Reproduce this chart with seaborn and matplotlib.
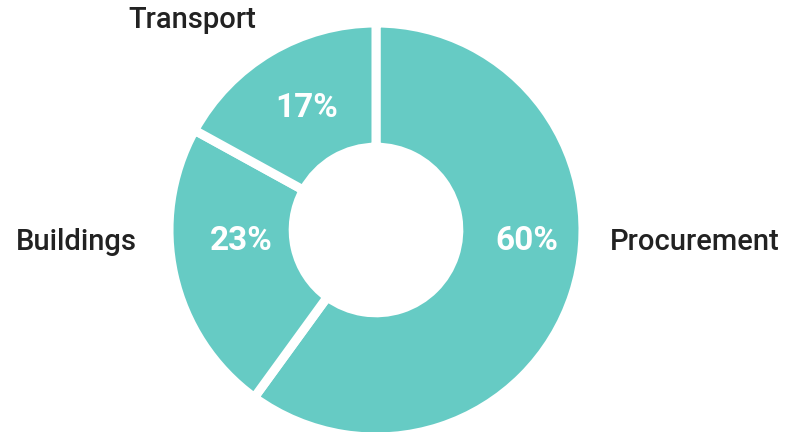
import matplotlib
matplotlib.use("Agg")
import matplotlib.pyplot as plt
import seaborn as sns

categories = ["Procurement", "Buildings", "Transport"]
values = [60, 23, 17]
pct_labels = ["60%", "23%", "17%"]

sns.set_theme(style="white")
plt.rcParams['font.family'] = ['Roboto', 'DejaVu Sans']

teal = "#66CBC4"
W, H = 789, 432
cx, cy = 376, 230  # centre in pixels (from top)
R = 207.0

fig = plt.figure(figsize=(W / 100, H / 100), dpi=100)
ax = fig.add_axes([0, 0, 1, 1])
ax.pie(values, colors=[teal] * len(values), startangle=90, counterclock=False,
       radius=1.0,
       wedgeprops=dict(width=0.6, edgecolor="white", linewidth=6.5))
ax.set_xlim(-cx / R, (W - cx) / R)
ax.set_ylim(-(H - cy) / R, cy / R)
ax.set_aspect("equal")
ax.axis("off")

def px(x, y):
    return (x - cx) / R, (cy - y) / R

# percent labels
pct_pos = [(527, 241), (241, 241), (307, 108)]
for lab, (x, y) in zip(pct_labels, pct_pos):
    ax.text(*px(x, y), lab, color="white", fontsize=24, fontweight="bold",
            ha="center", va="center")

# category labels
cat_pos = [(610, 242, "left"), (137, 242, "right"), (192, 20, "center")]
for lab, (x, y, ha) in zip(categories, cat_pos):
    ax.text(*px(x, y), lab, color="#222222", fontsize=21, fontweight="medium",
            ha=ha, va="center")

fig.savefig("out.png", dpi=100, facecolor="white")
